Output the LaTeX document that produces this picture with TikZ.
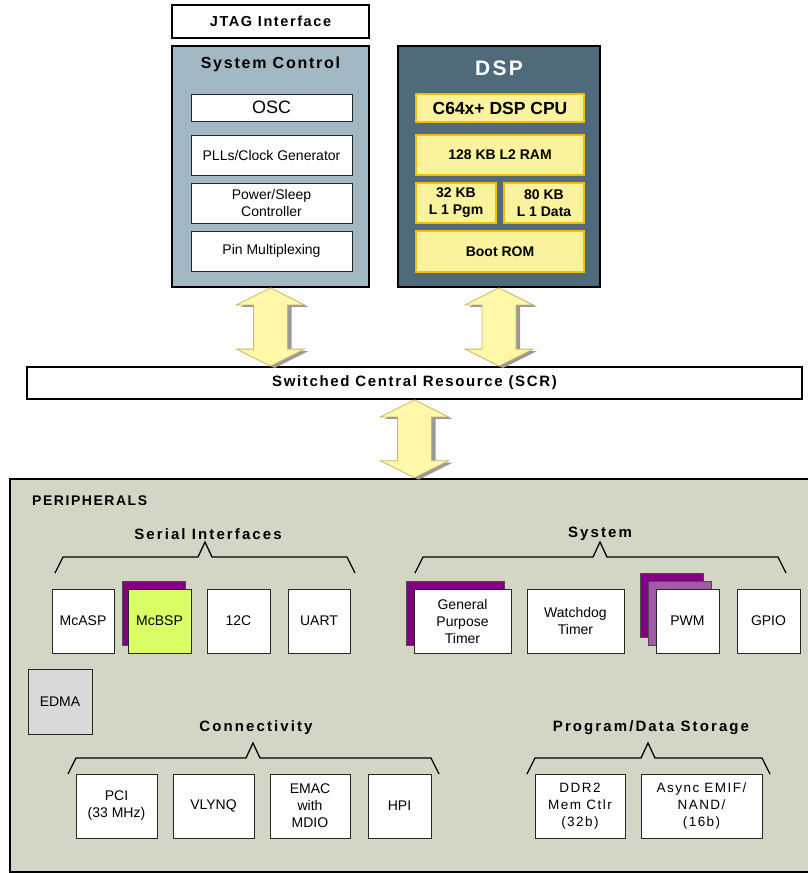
\documentclass[tikz,border=0pt]{standalone}
\usepackage{fontspec}
\setmainfont{Liberation Sans}
\newfontfamily\spacedfont[LetterSpace=11]{Liberation Sans}
\newfontfamily\trackfont[LetterSpace=14]{Liberation Sans}
\usetikzlibrary{calc,shadows}

\definecolor{sysblue}{HTML}{A3B8C5}
\definecolor{dspslate}{HTML}{4E6A7B}
\definecolor{dspyellow}{HTML}{FAF29C}
\definecolor{dspgold}{HTML}{F0C000}
\definecolor{periphgray}{HTML}{D4D6C5}
\definecolor{plum}{HTML}{800080}
\definecolor{lightplum}{HTML}{A25AA8}
\definecolor{lime}{HTML}{DAFF66}
\definecolor{edmagray}{HTML}{D9D9D9}
\definecolor{arrowyellow}{HTML}{FFF8A8}
\definecolor{arrowedge}{HTML}{CDB468}

\tikzset{
  frame/.style={draw=black, line width=1.8pt, inner sep=0pt},
  blk/.style={draw=black!85, fill=white, line width=0.7pt, inner sep=0pt, align=center,
    drop shadow={shadow xshift=1.2pt, shadow yshift=-1.2pt, fill=black!35},
    font=\fontsize{14}{17}\selectfont},
  core/.style={draw=dspgold, fill=dspyellow, line width=1.8pt, inner sep=0pt, align=center,
    font=\bfseries\fontsize{14}{17}\selectfont},
  sheet/.style={draw=black!70, fill=plum, line width=0.6pt, inner sep=0pt},
  title/.style={font=\trackfont\bfseries\fontsize{15}{18}\selectfont, inner sep=0pt},
  bracket/.style={line width=1.3pt},
  busarrow/.style={fill=arrowyellow, draw=arrowedge, line width=0.8pt},
}

% double bus arrow between two named points, shifted by #3
\newcommand{\arrowpath}[3]{($(#1)+(#3)$) -- ++(34,17) -- ++(-17,0) -- ($(#2)+(#3)+(17,-17)$) -- ++(17,0) -- ($(#2)+(#3)$) -- ++(-34,-17) -- ++(17,0) -- ($(#1)+(#3)+(-17,17)$) -- ++(-17,0) -- cycle}
% group bracket: left, peak, right, height
\newcommand{\grpbrace}[4]{\draw[bracket] (#1,#4+16) -- (#1+8,#4) -- (#2-7,#4) -- (#2,#4-15) -- (#2+7,#4) -- (#3-8,#4) -- (#3,#4+16);}

\begin{document}
\begin{tikzpicture}[x=1pt,y=-1pt]
\useasboundingbox (0,0) rectangle (808,873);

% top blocks
\node[frame, fill=white, minimum width=197, minimum height=33,
  font=\spacedfont\bfseries\fontsize{14.5}{16}\selectfont] (jtag) at (270.5,21.5) {JTAG Interface};
\node[frame, fill=sysblue, minimum width=197, minimum height=241] (sysctl) at (270.5,166.5) {};
\node[font=\spacedfont\bfseries\fontsize{16}{18}\selectfont] (sctitle) at (270.5,64) {System Control};
\node[blk, minimum width=161, minimum height=27, font=\fontsize{18}{20}\selectfont] (osc) at (271.5,107.5) {OSC};
\node[blk, minimum width=161, minimum height=40] (pll) at (271.5,155) {PLLs/Clock Generator};
\node[blk, minimum width=161, minimum height=40] (pwr) at (271.5,203) {Power/Sleep\\Controller};
\node[blk, minimum width=161, minimum height=40] (pin) at (271.5,251) {Pin Multiplexing};

\node[frame, fill=dspslate, minimum width=202, minimum height=241] (dsp) at (499,166.5) {};
\node[text=white, font=\spacedfont\bfseries\fontsize{21}{24}\selectfont] (dsptitle) at (499,68) {DSP};
\node[core, minimum width=168, minimum height=28, font=\bfseries\fontsize{17.5}{20}\selectfont] (cpu) at (500,108) {C64x+ DSP CPU};
\node[core, minimum width=168, minimum height=40] (ltwo) at (500,155) {128 KB L2 RAM};
\node[core, minimum width=80, minimum height=40] (lpgm) at (456,203) {32 KB\\L 1 Pgm};
\node[core, minimum width=80, minimum height=40] (ldata) at (544,203) {80 KB\\L 1 Data};
\node[core, minimum width=168, minimum height=41] (boot) at (500,251.5) {Boot ROM};

\node[frame, fill=white, minimum width=775, minimum height=32,
  font=\spacedfont\bfseries\fontsize{15}{17}\selectfont] (scr) at (414.5,383) {Switched Central Resource (SCR)};

% peripherals
\node[frame, line width=2.6pt, fill=periphgray, minimum width=820, minimum height=393] (periph) at (420,675.5) {};
\node[anchor=west, inner sep=0pt, font=\spacedfont\bfseries\fontsize{14}{16}\selectfont] (periphtitle) at (32,501) {PERIPHERALS};

\coordinate (scin) at (sysctl.south |- scr.north);
\coordinate (dspin) at (dsp.south |- scr.north);
\coordinate (prin) at (scr.south |- periph.north);
\fill[black!40] \arrowpath{sysctl.south}{scin}{4,2};
\draw[busarrow] \arrowpath{sysctl.south}{scin}{0,0};
\fill[black!40] \arrowpath{dsp.south}{dspin}{4,2};
\draw[busarrow] \arrowpath{dsp.south}{dspin}{0,0};
\fill[black!40] \arrowpath{scr.south}{prin}{4,2};
\draw[busarrow] \arrowpath{scr.south}{prin}{0,0};

\node[title] (serial) at (208,534) {Serial Interfaces};
\node[title] (system) at (600,534) {System};
\node[title] (conn) at (256,728) {Connectivity};
\node[title] (storage) at (651,728) {Program/Data Storage};
\grpbrace{55}{205}{355}{557}
\grpbrace{415}{600}{786}{557}
\grpbrace{68}{253}{439}{758}
\grpbrace{527}{648}{770}{758}

% serial interfaces
\node[blk, minimum width=62, minimum height=64] (mcasp) at (83,621) {McASP};
\node[sheet, minimum width=63, minimum height=64] (mcbspback) at (153.5,613) {};
\node[blk, fill=lime, minimum width=63, minimum height=64] (mcbsp) at (159.5,621) {McBSP};
\node[blk, minimum width=63, minimum height=64] (iic) at (238.5,621) {12C};
\node[blk, minimum width=62, minimum height=64] (uart) at (319,621) {UART};

% system
\node[sheet, minimum width=98, minimum height=64] (gptback) at (455,613) {};
\node[blk, minimum width=97, minimum height=64] (gpt) at (462.5,621) {General\\Purpose\\Timer};
\node[blk, minimum width=97, minimum height=64] (wdt) at (575.5,621) {Watchdog\\Timer};
\node[sheet, minimum width=63, minimum height=64] (pwmback) at (671.5,605) {};
\node[sheet, fill=lightplum, minimum width=63, minimum height=64] (pwmmid) at (679.5,613) {};
\node[blk, minimum width=63, minimum height=64] (pwm) at (687.5,621) {PWM};
\node[blk, minimum width=63, minimum height=64] (gpio) at (768.5,621) {GPIO};

\node[blk, fill=edmagray, minimum width=64, minimum height=65] (edma) at (60,701.5) {EDMA};

% connectivity
\node[blk, minimum width=81, minimum height=64] (pci) at (116.5,806) {PCI\\(33 MHz)};
\node[blk, minimum width=81, minimum height=64] (vlynq) at (213.5,806) {VLYNQ};
\node[blk, minimum width=80, minimum height=64] (emac) at (310,806) {EMAC\\with\\MDIO};
\node[blk, minimum width=63, minimum height=64] (hpi) at (399.5,806) {HPI};

% program/data storage
\node[blk, minimum width=90, minimum height=64, font=\spacedfont\fontsize{13.5}{17}\selectfont] (ddr) at (580,806) {DDR2\\Mem Ctlr\\(32b)};
\node[blk, minimum width=121, minimum height=64, font=\spacedfont\fontsize{13.5}{17}\selectfont] (async) at (701.5,806) {Async EMIF/\\NAND/\\(16b)};
\end{tikzpicture}
\end{document}
